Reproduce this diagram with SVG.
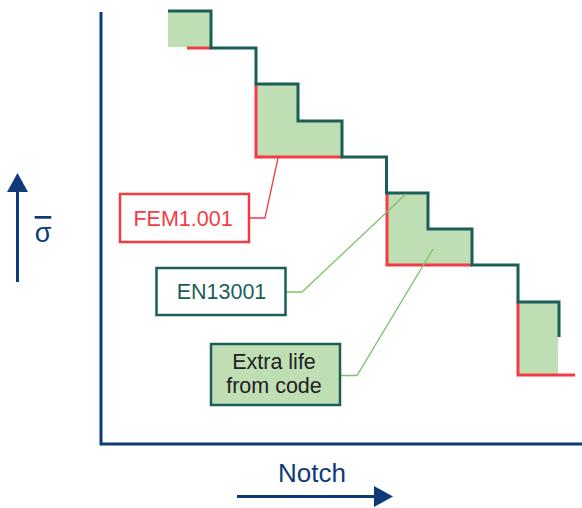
<svg xmlns="http://www.w3.org/2000/svg" width="582" height="508" viewBox="0 0 582 508">
<style>
.fill{fill:#bfdeb4;stroke:none}
.red{fill:none;stroke:#f23b45;stroke-width:3}
.dark{fill:none;stroke:#1b5e58;stroke-width:3;stroke-linejoin:miter}
.axis{fill:none;stroke:#0e3a7a;stroke-width:3}
.lead{fill:none;stroke:#7cc46a;stroke-width:1.3}
.leadr{fill:none;stroke:#f23b45;stroke-width:1.3}
.arrowhead{fill:#0e3a7a}
text{font-family:"Liberation Sans",Arial,sans-serif;text-anchor:middle}
</style>
<g id="axes">
<path class="axis" d="M101,12 V444 H582"/>
</g>
<g id="steps">
<rect class="fill" x="168" y="11" width="43" height="36"/>
<polygon class="fill" points="256,84 298,84 298,121 342,121 342,157 256,157"/>
<polygon class="fill" points="387,193 428,193 428,229 472,229 472,265 387,265"/>
<rect class="fill" x="518" y="302" width="40" height="73"/>
<path class="red" d="M187,48 H211"/>
<path class="red" d="M256,84 V157 H342"/>
<path class="red" d="M387,193 V265 H472"/>
<path class="red" d="M518,302 V375 H575"/>
<path class="dark" d="M168,11 H211 V48 H256 V84 H298 V121 H342 V157 H386.5 V193 H428 V229 H472 V265 H518 V302 H559 V337"/>
</g>
<g id="connectors">
<path class="leadr" d="M250,218 H265 L278,158"/>
<path class="lead" d="M286,292 H302 L406,194"/>
<path class="lead" d="M340,375.5 H357 L433,249"/>
</g>
<g id="fem">
<rect x="120" y="194" width="129" height="48" fill="#fff" stroke="#f23b45" stroke-width="2.5"/>
<text x="183" y="226" font-size="21.5" fill="#f23b45">FEM1.001</text>
</g>
<g id="en">
<rect x="156.5" y="268" width="129" height="47" fill="#fff" stroke="#1b5e58" stroke-width="2.5"/>
<text x="221.5" y="299" font-size="21.5" fill="#1b5e58">EN13001</text>
</g>
<g id="extra">
<rect x="211" y="344" width="129" height="61" fill="#bfdeb4" stroke="#1b5e58" stroke-width="2.5"/>
<text x="274" y="369" font-size="21.5" fill="#222">Extra life</text>
<text x="274" y="393" font-size="21.5" fill="#222">from code</text>
</g>
<g id="sigma">
<path d="M17.5,282 V188" stroke="#0e3a7a" stroke-width="3" fill="none"/>
<polygon class="arrowhead" points="17.5,173 28,192 7,192"/>
<text x="43" y="242" font-size="27" fill="#0e3a7a" style="text-decoration:overline">σ</text>
</g>
<g id="notch">
<text x="312" y="482" font-size="26" fill="#0e3a7a">Notch</text>
<path d="M237,496.5 H378" stroke="#0e3a7a" stroke-width="3" fill="none"/>
<polygon class="arrowhead" points="393,496.5 374,486 374,507"/>
</g>
</svg>
